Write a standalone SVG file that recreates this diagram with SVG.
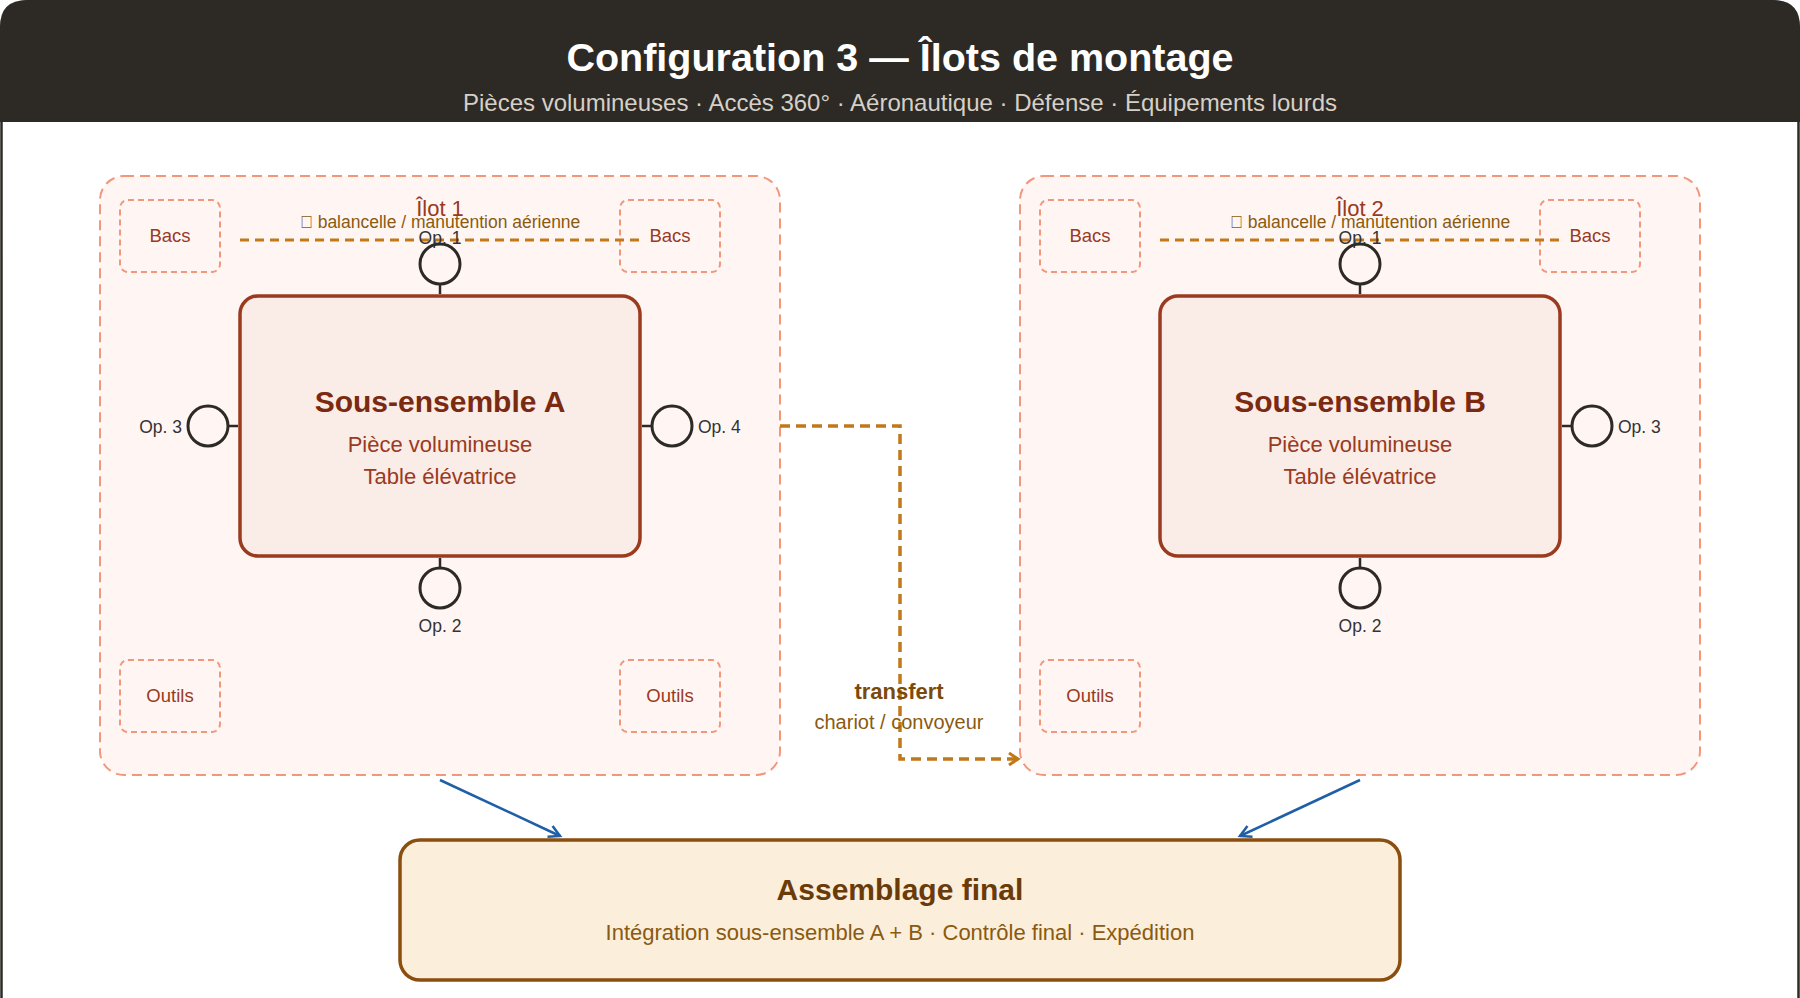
<svg xmlns="http://www.w3.org/2000/svg" width="1800" height="998" viewBox="0 0 1800 998">
<style>
.island{fill:#fff6f4;stroke:#f0977c;stroke-width:2;stroke-dasharray:10 6}
.store{fill:none;stroke:#f0977c;stroke-width:2;stroke-dasharray:6 4}
.storet{font-family:"Liberation Sans",Arial,sans-serif;font-size:18.5px;fill:#9a3a1e;text-anchor:middle}
.ilot{font-family:"Liberation Sans",Arial,sans-serif;font-size:22px;fill:#9a3a1e;text-anchor:middle}
.bal{font-family:"Liberation Sans",Arial,sans-serif;font-size:17.5px;fill:#8a5a10;text-anchor:middle}
.balline{stroke:#c07818;stroke-width:3;stroke-dasharray:9 6;fill:none}
.main{fill:#faece6;stroke:#9a3a1e;stroke-width:3.5}
.mt{font-family:"Liberation Sans",Arial,sans-serif;font-size:30px;font-weight:bold;fill:#7a2a10;text-anchor:middle}
.ms{font-family:"Liberation Sans",Arial,sans-serif;font-size:22px;fill:#9a3a1e;text-anchor:middle}
.op{fill:none;stroke:#2d2a26;stroke-width:3}
.opt{font-family:"Liberation Sans",Arial,sans-serif;font-size:17.5px;fill:#333}
.tick{stroke:#2d2a26;stroke-width:2.5}
</style>
<defs>
<marker id="ao" markerWidth="14" markerHeight="14" refX="11" refY="7" orient="auto" markerUnits="userSpaceOnUse"><path d="M2,1 L11,7 L2,13" fill="none" stroke="#c07818" stroke-width="3"/></marker>
<marker id="ab" markerWidth="16" markerHeight="16" refX="13" refY="8" orient="auto" markerUnits="userSpaceOnUse"><path d="M2,2 L13,8 L2,14" fill="none" stroke="#1f5fa8" stroke-width="2.5"/></marker>
</defs>
<rect x="1.5" y="1.5" width="1797" height="1060" rx="26" fill="#ffffff" stroke="#2d2a26" stroke-width="2.5"/>
<path d="M0,122 L0,27 Q0,0 27,0 L1773,0 Q1800,0 1800,27 L1800,122 Z" fill="#2d2a26"/>
<g id="header">
<text x="900" y="71" font-family="Liberation Sans,Arial,sans-serif" font-size="39.5" font-weight="bold" fill="#ffffff" text-anchor="middle">Configuration 3 — Îlots de montage</text>
<text x="900" y="111" font-family="Liberation Sans,Arial,sans-serif" font-size="24" fill="#d6d0c6" text-anchor="middle">Pièces volumineuses · Accès 360° · Aéronautique · Défense · Équipements lourds</text>
</g>
<g id="ilot1">
<rect class="island" x="100" y="176" width="680" height="599" rx="24"/>
<rect class="store" x="120" y="200" width="100" height="72" rx="8"/>
<text class="storet" x="170" y="242">Bacs</text>
<rect class="store" x="620" y="200" width="100" height="72" rx="8"/>
<text class="storet" x="670" y="242">Bacs</text>
<rect class="store" x="120" y="660" width="100" height="72" rx="8"/>
<text class="storet" x="170" y="702">Outils</text>
<rect class="store" x="620" y="660" width="100" height="72" rx="8"/>
<text class="storet" x="670" y="702">Outils</text>
<text class="ilot" x="440" y="216">Îlot 1</text>
<line class="balline" x1="240" y1="240" x2="640" y2="240"/>
<text class="bal" x="440" y="228">&#xE000; balancelle / manutention aérienne</text>
<rect class="main" x="240" y="296" width="400" height="260" rx="18"/>
<text class="mt" x="440" y="412">Sous-ensemble A</text>
<text class="ms" x="440" y="452">Pièce volumineuse</text>
<text class="ms" x="440" y="484">Table élévatrice</text>
<text class="opt" x="440" y="244" text-anchor="middle">Op. 1</text>
<circle class="op" cx="440" cy="264" r="20"/><line class="tick" x1="440" y1="284" x2="440" y2="294"/>
<circle class="op" cx="208" cy="426" r="20"/><line class="tick" x1="228" y1="426" x2="238" y2="426"/>
<text class="opt" x="182" y="433" text-anchor="end">Op. 3</text>
<circle class="op" cx="672" cy="426" r="20"/><line class="tick" x1="642" y1="426" x2="652" y2="426"/>
<text class="opt" x="698" y="433">Op. 4</text>
<circle class="op" cx="440" cy="588" r="20"/><line class="tick" x1="440" y1="558" x2="440" y2="568"/>
<text class="opt" x="440" y="632" text-anchor="middle">Op. 2</text>
</g>
<g id="ilot2">
<rect class="island" x="1020" y="176" width="680" height="599" rx="24"/>
<rect class="store" x="1040" y="200" width="100" height="72" rx="8"/>
<text class="storet" x="1090" y="242">Bacs</text>
<rect class="store" x="1540" y="200" width="100" height="72" rx="8"/>
<text class="storet" x="1590" y="242">Bacs</text>
<rect class="store" x="1040" y="660" width="100" height="72" rx="8"/>
<text class="storet" x="1090" y="702">Outils</text>
<text class="ilot" x="1360" y="216">Îlot 2</text>
<line class="balline" x1="1160" y1="240" x2="1560" y2="240"/>
<text class="bal" x="1370" y="228">&#xE000; balancelle / manutention aérienne</text>
<rect class="main" x="1160" y="296" width="400" height="260" rx="18"/>
<text class="mt" x="1360" y="412">Sous-ensemble B</text>
<text class="ms" x="1360" y="452">Pièce volumineuse</text>
<text class="ms" x="1360" y="484">Table élévatrice</text>
<text class="opt" x="1360" y="244" text-anchor="middle">Op. 1</text>
<circle class="op" cx="1360" cy="264" r="20"/><line class="tick" x1="1360" y1="284" x2="1360" y2="294"/>
<circle class="op" cx="1592" cy="426" r="20"/><line class="tick" x1="1562" y1="426" x2="1572" y2="426"/>
<text class="opt" x="1618" y="433">Op. 3</text>
<circle class="op" cx="1360" cy="588" r="20"/><line class="tick" x1="1360" y1="558" x2="1360" y2="568"/>
<text class="opt" x="1360" y="632" text-anchor="middle">Op. 2</text>
</g>
<g id="final">
<rect x="400" y="840" width="1000" height="140" rx="20" fill="#fbeedb" stroke="#8a4e0e" stroke-width="3.5"/>
<text x="900" y="900" font-family="Liberation Sans,Arial,sans-serif" font-size="30" font-weight="bold" fill="#6a3a08" text-anchor="middle">Assemblage final</text>
<text x="900" y="940" font-family="Liberation Sans,Arial,sans-serif" font-size="22" fill="#8a5a10" text-anchor="middle">Intégration sous-ensemble A + B · Contrôle final · Expédition</text>
</g>
<g id="connectors">
<path d="M780,426 L900,426 L900,759 L1018,759" fill="none" stroke="#c07818" stroke-width="3.5" stroke-dasharray="10 6" marker-end="url(#ao)"/>
<text x="899" y="699" font-family="Liberation Sans,Arial,sans-serif" font-size="22" font-weight="bold" fill="#7a4a0a" text-anchor="middle">transfert</text>
<text x="899" y="729" font-family="Liberation Sans,Arial,sans-serif" font-size="20" fill="#8a5a10" text-anchor="middle">chariot / convoyeur</text>
<line x1="440" y1="780" x2="560" y2="836" stroke="#1f5fa8" stroke-width="2.5" marker-end="url(#ab)"/>
<line x1="1360" y1="780" x2="1240" y2="836" stroke="#1f5fa8" stroke-width="2.5" marker-end="url(#ab)"/>
</g>
</svg>
